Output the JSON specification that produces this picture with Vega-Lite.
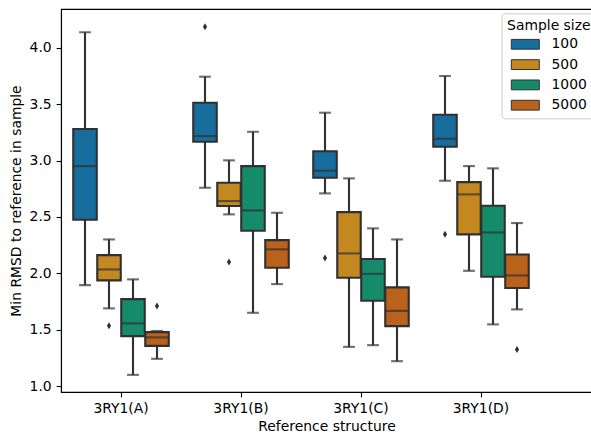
{
  "$schema": "https://vega.github.io/schema/vega-lite/v6.json",
  "width": 531,
  "height": 383,
  "autosize": {"type": "none"},
  "padding": {"left": 61, "top": 9, "right": 0, "bottom": 42},
  "background": "white",
  "datasets": {
    "boxes": [
      {"structure": "3RY1(A)", "sample": "100", "lower": 1.896, "q1": 2.475, "median": 2.951, "q3": 3.279, "upper": 4.137},
      {"structure": "3RY1(A)", "sample": "500", "lower": 1.690, "q1": 1.938, "median": 2.035, "q3": 2.162, "upper": 2.301},
      {"structure": "3RY1(A)", "sample": "1000", "lower": 1.101, "q1": 1.444, "median": 1.557, "q3": 1.772, "upper": 1.947},
      {"structure": "3RY1(A)", "sample": "5000", "lower": 1.243, "q1": 1.358, "median": 1.433, "q3": 1.480, "upper": 1.490},
      {"structure": "3RY1(B)", "sample": "100", "lower": 2.759, "q1": 3.167, "median": 3.217, "q3": 3.512, "upper": 3.743},
      {"structure": "3RY1(B)", "sample": "500", "lower": 2.523, "q1": 2.597, "median": 2.641, "q3": 2.803, "upper": 3.002},
      {"structure": "3RY1(B)", "sample": "1000", "lower": 1.651, "q1": 2.378, "median": 2.558, "q3": 2.951, "upper": 3.255},
      {"structure": "3RY1(B)", "sample": "5000", "lower": 1.905, "q1": 2.050, "median": 2.213, "q3": 2.295, "upper": 2.537},
      {"structure": "3RY1(C)", "sample": "100", "lower": 2.709, "q1": 2.848, "median": 2.910, "q3": 3.082, "upper": 3.424},
      {"structure": "3RY1(C)", "sample": "500", "lower": 1.349, "q1": 1.961, "median": 2.177, "q3": 2.543, "upper": 2.842},
      {"structure": "3RY1(C)", "sample": "1000", "lower": 1.364, "q1": 1.757, "median": 1.996, "q3": 2.127, "upper": 2.399},
      {"structure": "3RY1(C)", "sample": "5000", "lower": 1.222, "q1": 1.533, "median": 1.668, "q3": 1.876, "upper": 2.301},
      {"structure": "3RY1(D)", "sample": "100", "lower": 2.821, "q1": 3.122, "median": 3.193, "q3": 3.406, "upper": 3.749},
      {"structure": "3RY1(D)", "sample": "500", "lower": 2.023, "q1": 2.346, "median": 2.700, "q3": 2.809, "upper": 2.951},
      {"structure": "3RY1(D)", "sample": "1000", "lower": 1.548, "q1": 1.970, "median": 2.363, "q3": 2.599, "upper": 2.931},
      {"structure": "3RY1(D)", "sample": "5000", "lower": 1.681, "q1": 1.870, "median": 1.982, "q3": 2.168, "upper": 2.446}
    ],
    "outliers": [
      {"structure": "3RY1(A)", "sample": "500", "value": 1.535},
      {"structure": "3RY1(A)", "sample": "5000", "value": 1.710},
      {"structure": "3RY1(B)", "sample": "100", "value": 4.186},
      {"structure": "3RY1(B)", "sample": "500", "value": 2.100},
      {"structure": "3RY1(C)", "sample": "100", "value": 2.136},
      {"structure": "3RY1(D)", "sample": "100", "value": 2.346},
      {"structure": "3RY1(D)", "sample": "5000", "value": 1.326}
    ]
  },
  "encoding": {
    "x": {
      "field": "structure",
      "type": "nominal",
      "scale": {"type": "band", "domain": ["3RY1(A)", "3RY1(B)", "3RY1(C)", "3RY1(D)"], "paddingInner": 0, "paddingOuter": 0.2125, "align": 0},
      "axis": {"title": "Reference structure", "labelAngle": 0, "titlePadding": 4}
    },
    "xOffset": {
      "field": "sample",
      "type": "nominal",
      "scale": {"domain": ["100", "500", "1000", "5000"], "paddingInner": 0, "paddingOuter": 0.5}
    }
  },
  "layer": [
    {
      "data": {"name": "boxes"},
      "mark": {"type": "rule", "color": "#303030", "strokeWidth": 2.1},
      "encoding": {
        "y": {"field": "lower", "type": "quantitative"},
        "y2": {"field": "upper"}
      }
    },
    {
      "data": {"name": "boxes"},
      "mark": {"type": "bar", "width": 23.5, "stroke": "#303030", "strokeWidth": 2.1, "opacity": 1},
      "encoding": {
        "y": {"field": "q1", "type": "quantitative"},
        "y2": {"field": "q3"},
        "color": {
          "field": "sample",
          "type": "nominal",
          "scale": {"domain": ["100", "500", "1000", "5000"], "range": ["#176d9c", "#c38820", "#168b6a", "#ba611b"]},
          "legend": {
            "orient": "none",
            "legendX": 440.5,
            "legendY": 4.3,
            "title": "Sample size",
            "titleFont": "DejaVu Sans",
            "titleFontSize": 13.9,
            "titleFontWeight": "normal",
            "titleColor": "black",
            "titlePadding": 4,
            "labelFont": "DejaVu Sans",
            "labelFontSize": 13.9,
            "labelColor": "black",
            "symbolType": "M-2,-0.7H2V0.7H-2Z",
            "symbolSize": 196,
            "symbolStrokeColor": "#303030",
            "symbolStrokeWidth": 1,
            "symbolOpacity": 1,
            "symbolOffset": 10.7,
            "labelOffset": 18.7,
            "rowPadding": 5.3,
            "padding": 5.6,
            "fillColor": "rgba(255,255,255,0.8)",
            "strokeColor": "#cccccc",
            "cornerRadius": 3
          }
        }
      }
    },
    {
      "data": {"name": "boxes"},
      "mark": {"type": "tick", "color": "#303030", "size": 23.5, "thickness": 2.1},
      "encoding": {
        "y": {"field": "median", "type": "quantitative"}
      }
    },
    {
      "data": {"name": "boxes"},
      "mark": {"type": "tick", "color": "#303030", "size": 11.8, "thickness": 2.1},
      "encoding": {
        "y": {"field": "upper", "type": "quantitative"}
      }
    },
    {
      "data": {"name": "boxes"},
      "mark": {"type": "tick", "color": "#303030", "size": 11.8, "thickness": 2.1},
      "encoding": {
        "y": {"field": "lower", "type": "quantitative"}
      }
    },
    {
      "data": {"name": "outliers"},
      "mark": {"type": "point", "shape": "M0,-1L0.6,0L0,1L-0.6,0Z", "filled": true, "size": 49, "color": "#303030", "opacity": 1},
      "encoding": {
        "y": {
          "field": "value",
          "type": "quantitative",
          "scale": {"domain": [0.949, 4.343], "nice": false, "zero": false},
          "axis": {"title": "Min RMSD to reference in sample", "values": [1.0, 1.5, 2.0, 2.5, 3.0, 3.5, 4.0], "format": ".1f", "titlePadding": 6}
        }
      }
    }
  ],
  "resolve": {"scale": {"y": "shared"}},
  "config": {
    "font": "DejaVu Sans",
    "view": {"stroke": "black", "strokeWidth": 1.1},
    "axis": {
      "grid": false,
      "domainColor": "black",
      "domainWidth": 1.1,
      "tickColor": "black",
      "tickWidth": 1.1,
      "tickSize": 4.9,
      "labelFont": "DejaVu Sans",
      "labelFontSize": 13.9,
      "labelColor": "black",
      "labelPadding": 4.9,
      "titleFont": "DejaVu Sans",
      "titleFontSize": 13.9,
      "titleFontWeight": "normal",
      "titleColor": "black"
    }
  }
}
